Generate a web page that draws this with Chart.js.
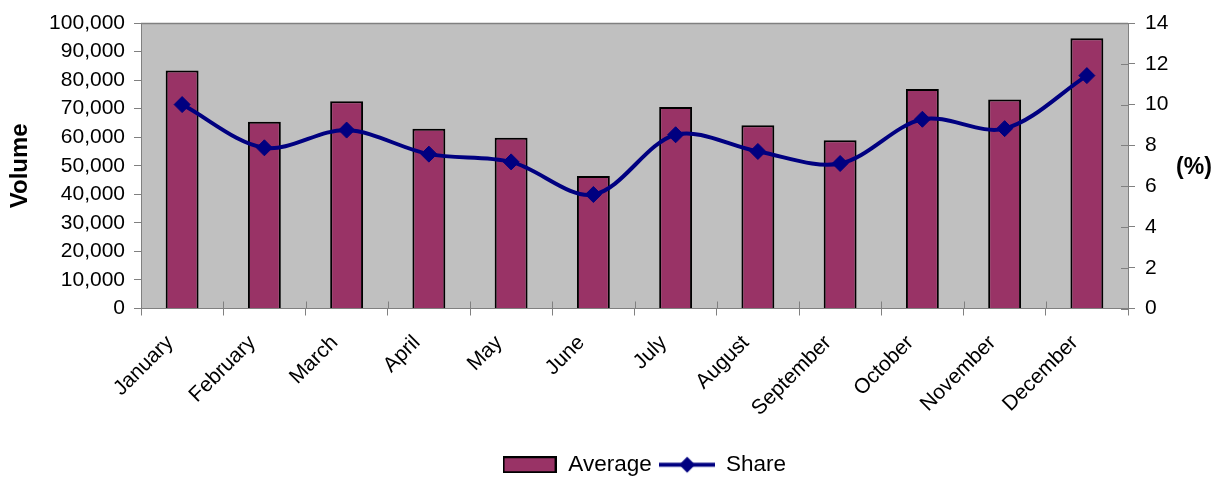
<!DOCTYPE html>
<html>
<head>
<meta charset="utf-8">
<script src="https://cdn.jsdelivr.net/npm/chart.js@4"></script>
<style>
  html, body { margin: 0; padding: 0; background: #ffffff; }
  #wrap { width: 1218px; height: 477px; position: relative; }
</style>
</head>
<body>
<div id="wrap"><canvas id="c"></canvas></div>
<script>
const months = ['January','February','March','April','May','June','July','August','September','October','November','December'];
const averageVolume = [83400, 65400, 72600, 63000, 59800, 46400, 70600, 64200, 58900, 76900, 73200, 94700];
const sharePct = [10.0, 7.88, 8.75, 7.57, 7.19, 5.59, 8.52, 7.70, 7.11, 9.28, 8.82, 11.42];
const volumeAxis = { min: 0, max: 100000, step: 10000 };
const shareAxis = { min: 0, max: 14, step: 2 };

const FONT = "'Liberation Sans', Arial, sans-serif";
const BAR_COLOR = '#993366';
const LINE_COLOR = '#000080';
const AXIS_GRAY = '#808080';

// legend swatches
function barSwatch() {
  const c = document.createElement('canvas');
  c.width = 54; c.height = 17;
  const g = c.getContext('2d');
  g.fillStyle = BAR_COLOR; g.fillRect(1, 1, 52, 15);
  g.strokeStyle = '#000'; g.lineWidth = 2; g.strokeRect(1, 1, 52, 15);
  return c;
}
function lineSwatch() {
  const c = document.createElement('canvas');
  c.width = 56; c.height = 19;
  const g = c.getContext('2d');
  g.strokeStyle = LINE_COLOR; g.lineWidth = 4;
  g.beginPath(); g.moveTo(0, 9.5); g.lineTo(56, 9.5); g.stroke();
  g.fillStyle = LINE_COLOR;
  g.beginPath(); g.moveTo(28, 1.5); g.lineTo(36, 9.5); g.lineTo(28, 17.5); g.lineTo(20, 9.5); g.closePath(); g.fill();
  return c;
}
const swatches = [barSwatch(), lineSwatch()];

const plotDecor = {
  id: 'plotDecor',
  afterLayout(chart) {
    // the legend sits a little right of the canvas centre
    if (chart.legend) { chart.legend.left += 35; chart.legend.right += 35; }
  },
  beforeDraw(chart) {
    const { ctx, chartArea: a } = chart;
    ctx.save();
    ctx.fillStyle = '#C0C0C0';
    ctx.fillRect(a.left, a.top, a.right - a.left, a.bottom - a.top);
    ctx.strokeStyle = AXIS_GRAY; ctx.lineWidth = 1.5;
    ctx.beginPath(); ctx.moveTo(a.left, a.top + 0.5); ctx.lineTo(a.right, a.top + 0.5); ctx.stroke();
    ctx.restore();
  },
  afterDraw(chart) {
    const { ctx, chartArea: a } = chart;
    const x = chart.scales.x, y1 = chart.scales.y1;
    ctx.save();
    ctx.strokeStyle = AXIS_GRAY; ctx.lineWidth = 1;
    ctx.beginPath();
    // inner half of crossing ticks on category axis (category boundaries)
    const n = months.length;
    for (let i = 0; i <= n; i++) {
      const px = Math.round(x.left + i * (x.width / n)) + 0.5;
      ctx.moveTo(px, a.bottom - 7); ctx.lineTo(px, a.bottom);
    }
    // inner half of crossing ticks on right axis
    y1.ticks.forEach(t => {
      const py = Math.round(y1.getPixelForValue(t.value)) + 0.5;
      ctx.moveTo(a.right - 7, py); ctx.lineTo(a.right, py);
    });
    ctx.stroke();
    // right axis title, horizontal
    ctx.fillStyle = '#000';
    ctx.font = "bold 23px " + FONT;
    ctx.textAlign = 'center'; ctx.textBaseline = 'middle';
    ctx.fillText('(%)', y1.right - 24, (a.top + a.bottom) / 2 + 2);
    ctx.restore();
  }
};

new Chart(document.getElementById('c'), {
  data: {
    labels: months,
    datasets: [
      {
        type: 'bar', label: 'Average', data: averageVolume, yAxisID: 'y', order: 1,
        backgroundColor: BAR_COLOR, borderColor: '#000000', borderWidth: 2,
        barPercentage: 0.4, categoryPercentage: 1.0
      },
      {
        type: 'line', label: 'Share', data: sharePct, yAxisID: 'y1', order: 0,
        borderColor: LINE_COLOR, backgroundColor: LINE_COLOR, borderWidth: 4,
        tension: 0.33, pointStyle: 'rectRot', pointRadius: 8, pointBorderWidth: 1,
        pointBackgroundColor: LINE_COLOR, pointBorderColor: LINE_COLOR
      }
    ]
  },
  options: {
    responsive: true, maintainAspectRatio: false, animation: false,
    layout: { padding: { top: 23, right: 0, bottom: -9, left: 0 } },
    plugins: {
      tooltip: { enabled: false },
      legend: {
        position: 'bottom',
        labels: {
          color: '#000', font: { family: FONT, size: 22.5 }, padding: 8,
          usePointStyle: true, pointStyleWidth: 55, boxHeight: 17,
          generateLabels(chart) {
            const items = Chart.defaults.plugins.legend.labels.generateLabels(chart);
            items.sort((p, q) => p.datasetIndex - q.datasetIndex);
            items.forEach(it => { it.pointStyle = swatches[it.datasetIndex]; });
            return items;
          }
        }
      }
    },
    scales: {
      x: {
        offset: true,
        grid: { offset: true, drawOnChartArea: false, tickLength: 7, color: AXIS_GRAY },
        border: { color: AXIS_GRAY },
        ticks: { color: '#000', font: { family: FONT, size: 21 }, minRotation: 45, maxRotation: 45, padding: 15, labelOffset: -12, autoSkip: false },
        afterFit(s) { s.height = 137; }
      },
      y: {
        position: 'left', min: volumeAxis.min, max: volumeAxis.max,
        grid: { drawOnChartArea: false, tickLength: 7, color: AXIS_GRAY },
        border: { color: AXIS_GRAY },
        ticks: { stepSize: volumeAxis.step, color: '#000', font: { family: FONT, size: 21 }, padding: 9,
          callback: v => v.toLocaleString('en-US') },
        title: { display: true, text: 'Volume', color: '#000', font: { family: FONT, size: 24, weight: 'bold' }, padding: { top: 6, bottom: 0 } },
        afterFit(s) { s.width = 141; }
      },
      y1: {
        position: 'right', min: shareAxis.min, max: shareAxis.max,
        grid: { drawOnChartArea: false, tickLength: 7, color: AXIS_GRAY },
        border: { color: AXIS_GRAY },
        ticks: { stepSize: shareAxis.step, color: '#000', font: { family: FONT, size: 21 }, padding: 10 },
        afterFit(s) { s.width = 90; }
      }
    }
  },
  plugins: [plotDecor]
});
</script>
</body>
</html>
